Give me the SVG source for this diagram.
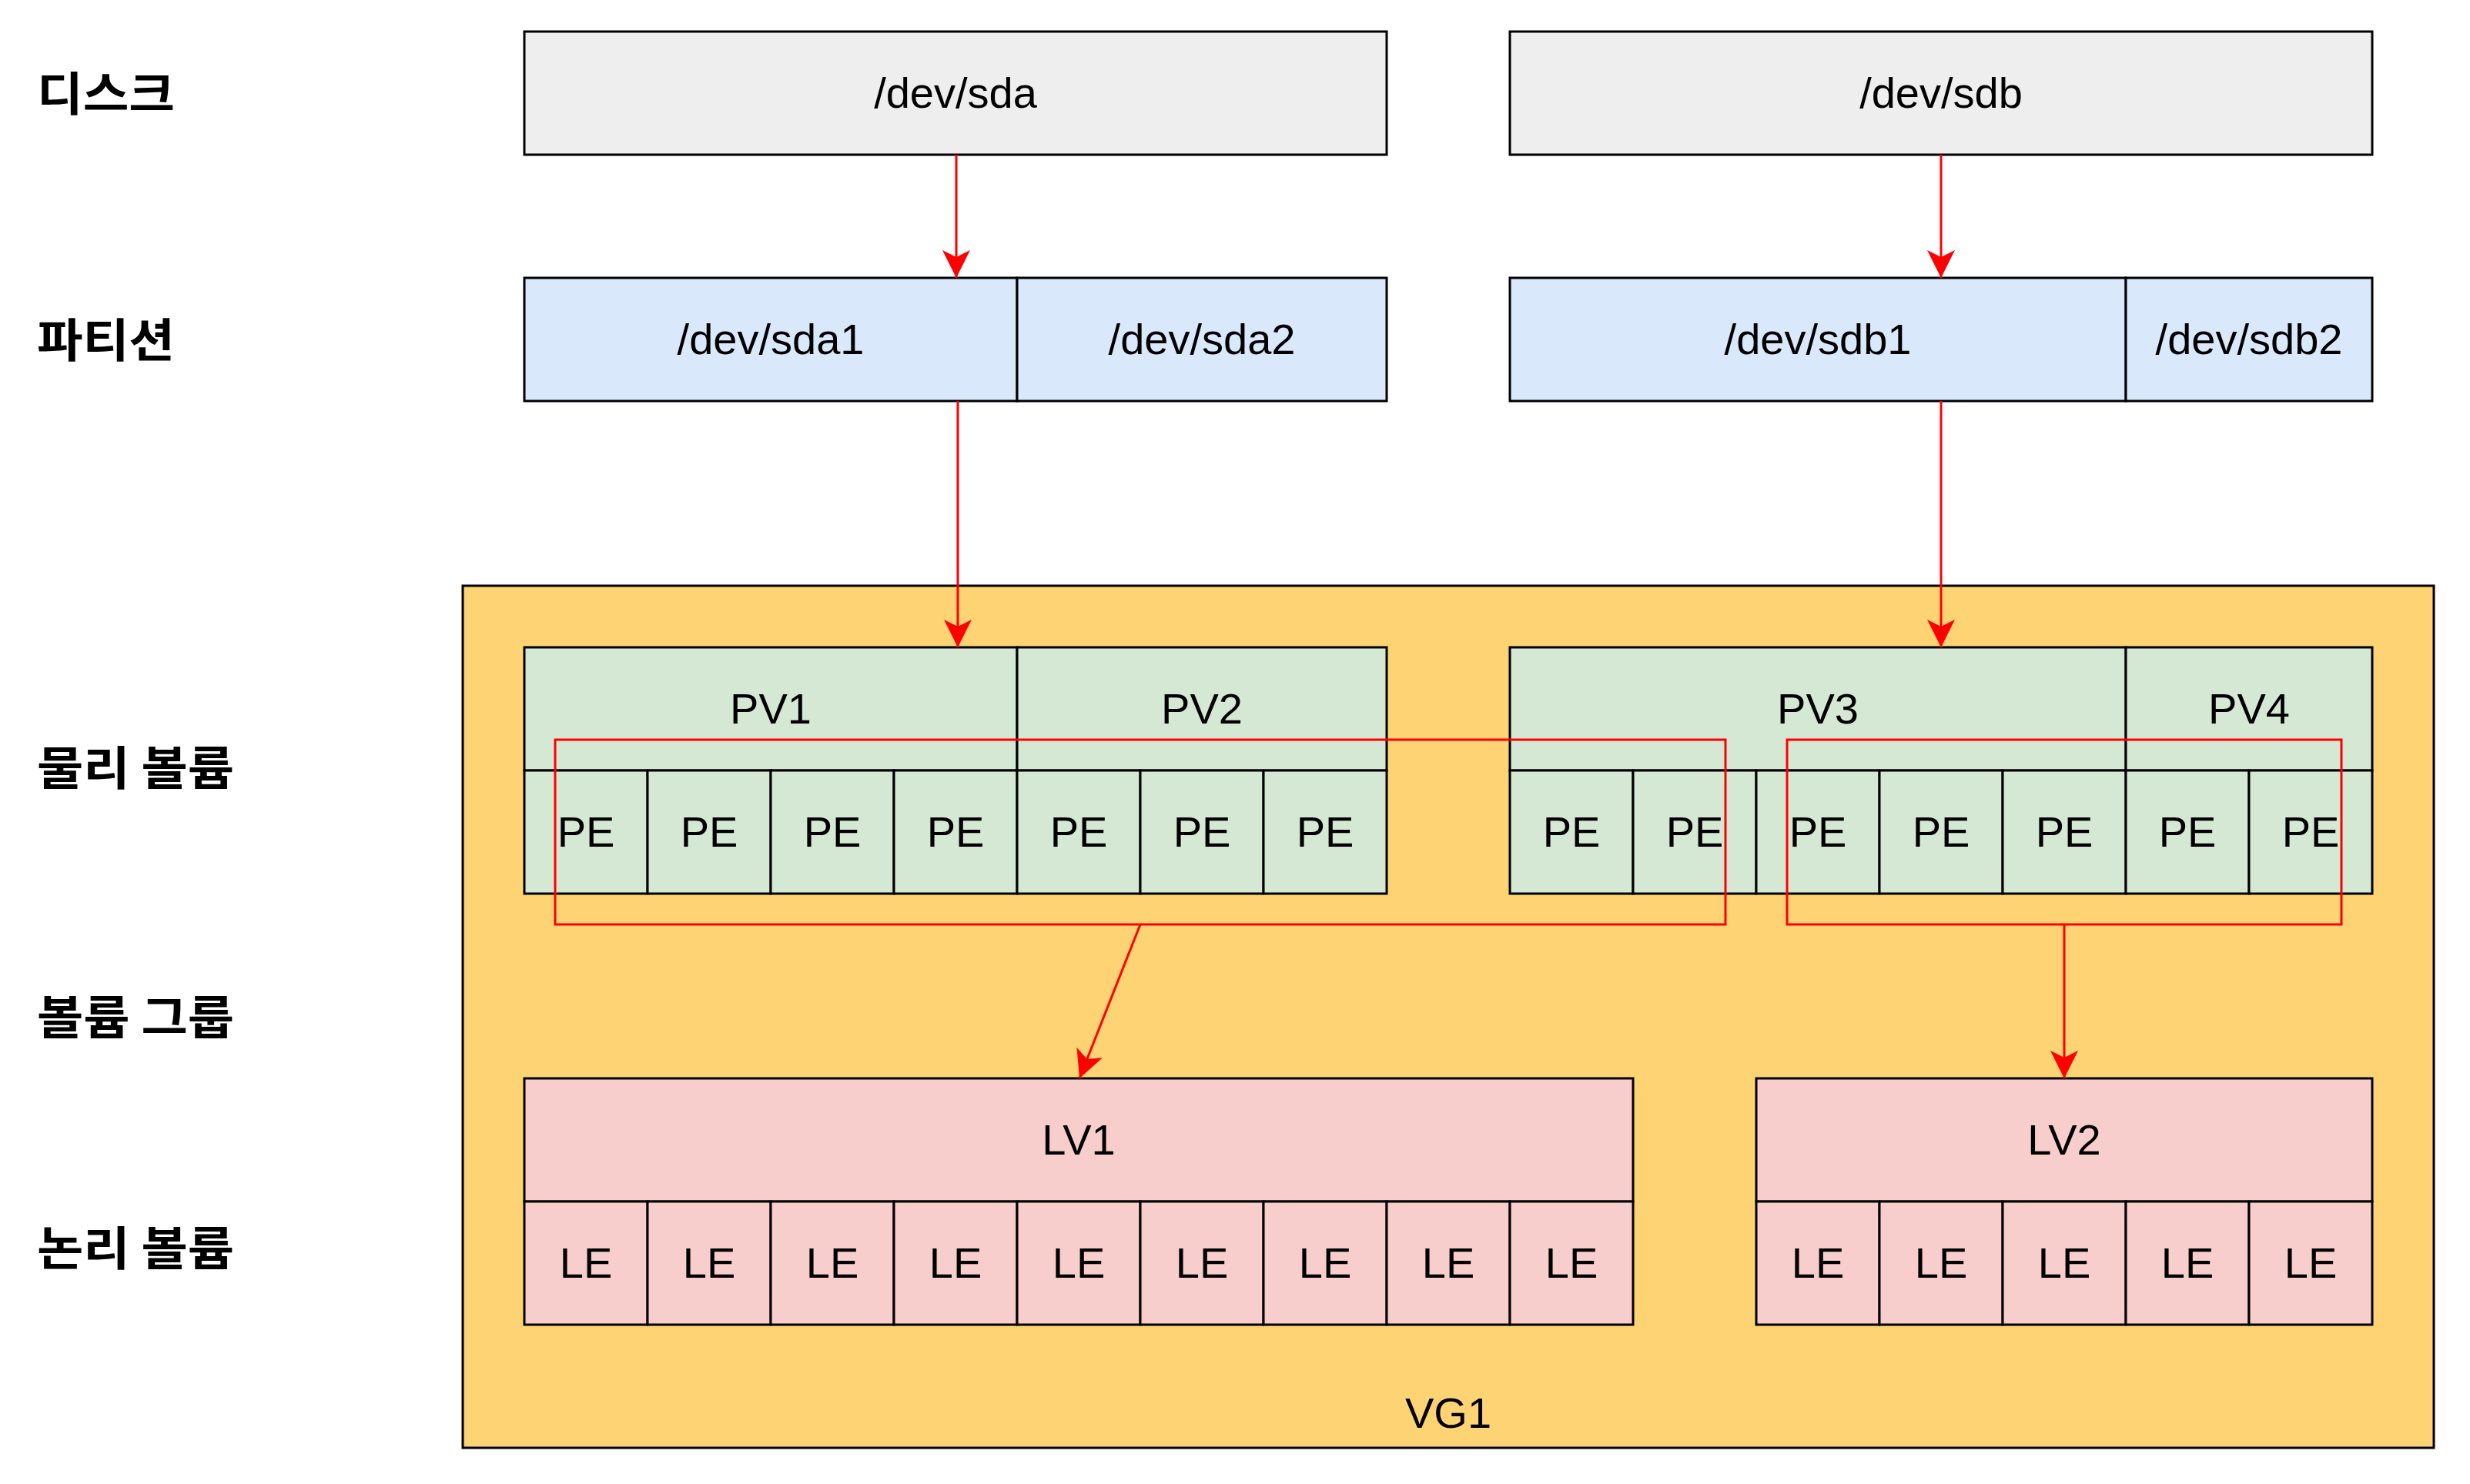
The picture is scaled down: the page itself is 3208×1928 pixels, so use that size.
<svg xmlns="http://www.w3.org/2000/svg" width="3208" height="1928" viewBox="0 0 3208 1928">
<style>
.box{stroke:#000;stroke-width:3}
.disk{fill:#eeeeee}
.part{fill:#dae8fc}
.pv{fill:#d5e8d4}
.lv{fill:#f8cecc}
.vg{fill:#fed373;stroke:#000;stroke-width:3}
.sel{fill:none;stroke:#ff0000;stroke-width:3}
.t{font-family:"Liberation Sans",Arial,sans-serif;font-size:56px;fill:#000;text-anchor:middle}
.lbl{font-family:"Noto Sans CJK KR","Noto Sans",sans-serif;font-size:60px;font-weight:bold;fill:#000}
.edge{fill:none;stroke:#ff0000;stroke-width:3}
</style>
<defs>
<marker id="arr" viewBox="0 0 36 36" refX="36" refY="18" markerWidth="36" markerHeight="36" markerUnits="userSpaceOnUse" orient="auto">
<path d="M0,0 L36,18 L0,36 L9,18 Z" fill="#ff0000"/>
</marker>
</defs>
<rect width="3208" height="1928" fill="#ffffff"/>

<g id="labels">
<text class="lbl" x="48" y="144" textLength="179" lengthAdjust="spacingAndGlyphs">디스크</text>
<text class="lbl" x="48" y="464" textLength="179" lengthAdjust="spacingAndGlyphs">파티션</text>
<text class="lbl" x="48" y="1020" textLength="256" lengthAdjust="spacingAndGlyphs">물리 볼륨</text>
<text class="lbl" x="48" y="1344" textLength="256" lengthAdjust="spacingAndGlyphs">볼륨 그룹</text>
<text class="lbl" x="48" y="1644" textLength="256" lengthAdjust="spacingAndGlyphs">논리 볼륨</text>
</g>

<g id="vg1">
<rect class="vg" x="601" y="761" width="2560" height="1120"/>
<text class="t" x="1881" y="1855">VG1</text>
</g>

<g id="sda">
<rect class="box disk" x="681" y="41" width="1120" height="160"/>
<text class="t" x="1241" y="140">/dev/sda</text>
</g>
<g id="sdb">
<rect class="box disk" x="1961" y="41" width="1120" height="160"/>
<text class="t" x="2521" y="140">/dev/sdb</text>
</g>

<g id="sda1">
<rect class="box part" x="681" y="361" width="640" height="160"/>
<text class="t" x="1001" y="460">/dev/sda1</text>
</g>
<g id="sda2">
<rect class="box part" x="1321" y="361" width="480" height="160"/>
<text class="t" x="1561" y="460">/dev/sda2</text>
</g>
<g id="sdb1">
<rect class="box part" x="1961" y="361" width="800" height="160"/>
<text class="t" x="2361" y="460">/dev/sdb1</text>
</g>
<g id="sdb2">
<rect class="box part" x="2761" y="361" width="320" height="160"/>
<text class="t" x="2921" y="460">/dev/sdb2</text>
</g>

<g id="pv1">
<rect class="box pv" x="681" y="841" width="640" height="160"/>
<text class="t" x="1001" y="940">PV1</text>
<rect class="box pv" x="681" y="1001" width="160" height="160"/><text class="t" x="761" y="1100">PE</text>
<rect class="box pv" x="841" y="1001" width="160" height="160"/><text class="t" x="921" y="1100">PE</text>
<rect class="box pv" x="1001" y="1001" width="160" height="160"/><text class="t" x="1081" y="1100">PE</text>
<rect class="box pv" x="1161" y="1001" width="160" height="160"/><text class="t" x="1241" y="1100">PE</text>
</g>
<g id="pv2">
<rect class="box pv" x="1321" y="841" width="480" height="160"/>
<text class="t" x="1561" y="940">PV2</text>
<rect class="box pv" x="1321" y="1001" width="160" height="160"/><text class="t" x="1401" y="1100">PE</text>
<rect class="box pv" x="1481" y="1001" width="160" height="160"/><text class="t" x="1561" y="1100">PE</text>
<rect class="box pv" x="1641" y="1001" width="160" height="160"/><text class="t" x="1721" y="1100">PE</text>
</g>
<g id="pv3">
<rect class="box pv" x="1961" y="841" width="800" height="160"/>
<text class="t" x="2361" y="940">PV3</text>
<rect class="box pv" x="1961" y="1001" width="160" height="160"/><text class="t" x="2041" y="1100">PE</text>
<rect class="box pv" x="2121" y="1001" width="160" height="160"/><text class="t" x="2201" y="1100">PE</text>
<rect class="box pv" x="2281" y="1001" width="160" height="160"/><text class="t" x="2361" y="1100">PE</text>
<rect class="box pv" x="2441" y="1001" width="160" height="160"/><text class="t" x="2521" y="1100">PE</text>
<rect class="box pv" x="2601" y="1001" width="160" height="160"/><text class="t" x="2681" y="1100">PE</text>
</g>
<g id="pv4">
<rect class="box pv" x="2761" y="841" width="320" height="160"/>
<text class="t" x="2921" y="940">PV4</text>
<rect class="box pv" x="2761" y="1001" width="160" height="160"/><text class="t" x="2841" y="1100">PE</text>
<rect class="box pv" x="2921" y="1001" width="160" height="160"/><text class="t" x="3001" y="1100">PE</text>
</g>

<g id="lv1">
<rect class="box lv" x="681" y="1401" width="1440" height="160"/>
<text class="t" x="1401" y="1500">LV1</text>
<rect class="box lv" x="681" y="1561" width="160" height="160"/><text class="t" x="761" y="1660">LE</text>
<rect class="box lv" x="841" y="1561" width="160" height="160"/><text class="t" x="921" y="1660">LE</text>
<rect class="box lv" x="1001" y="1561" width="160" height="160"/><text class="t" x="1081" y="1660">LE</text>
<rect class="box lv" x="1161" y="1561" width="160" height="160"/><text class="t" x="1241" y="1660">LE</text>
<rect class="box lv" x="1321" y="1561" width="160" height="160"/><text class="t" x="1401" y="1660">LE</text>
<rect class="box lv" x="1481" y="1561" width="160" height="160"/><text class="t" x="1561" y="1660">LE</text>
<rect class="box lv" x="1641" y="1561" width="160" height="160"/><text class="t" x="1721" y="1660">LE</text>
<rect class="box lv" x="1801" y="1561" width="160" height="160"/><text class="t" x="1881" y="1660">LE</text>
<rect class="box lv" x="1961" y="1561" width="160" height="160"/><text class="t" x="2041" y="1660">LE</text>
</g>
<g id="lv2">
<rect class="box lv" x="2281" y="1401" width="800" height="160"/>
<text class="t" x="2681" y="1500">LV2</text>
<rect class="box lv" x="2281" y="1561" width="160" height="160"/><text class="t" x="2361" y="1660">LE</text>
<rect class="box lv" x="2441" y="1561" width="160" height="160"/><text class="t" x="2521" y="1660">LE</text>
<rect class="box lv" x="2601" y="1561" width="160" height="160"/><text class="t" x="2681" y="1660">LE</text>
<rect class="box lv" x="2761" y="1561" width="160" height="160"/><text class="t" x="2841" y="1660">LE</text>
<rect class="box lv" x="2921" y="1561" width="160" height="160"/><text class="t" x="3001" y="1660">LE</text>
</g>

<g id="extent-set-1">
<rect class="sel" x="721" y="961" width="1520" height="240"/>
</g>
<g id="extent-set-2">
<rect class="sel" x="2321" y="961" width="720" height="240"/>
</g>

<g id="connectors">
<path class="edge" d="M1242,201 L1242,361" marker-end="url(#arr)"/>
<path class="edge" d="M2521,201 L2521,361" marker-end="url(#arr)"/>
<path class="edge" d="M1244,521 L1244,841" marker-end="url(#arr)"/>
<path class="edge" d="M2521,521 L2521,841" marker-end="url(#arr)"/>
<path class="edge" d="M1481,1201 L1402,1401" marker-end="url(#arr)"/>
<path class="edge" d="M2681,1201 L2681,1401" marker-end="url(#arr)"/>
</g>
</svg>
